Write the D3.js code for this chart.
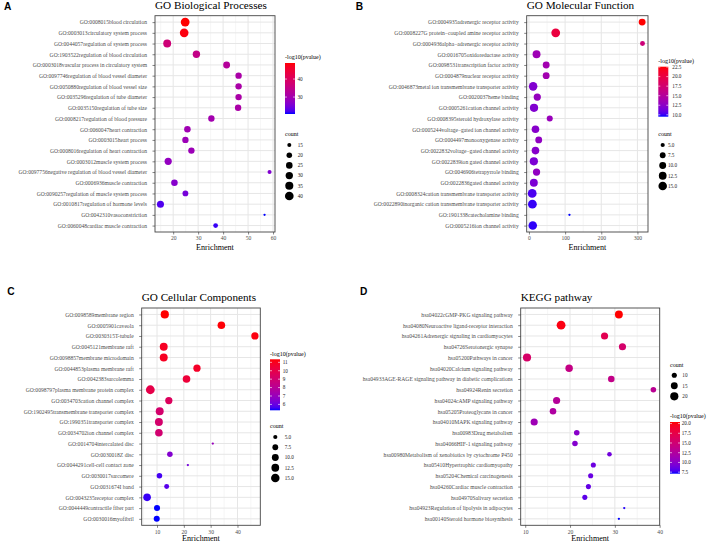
<!DOCTYPE html>
<html>
<head>
<meta charset="utf-8">
<script src="https://cdn.jsdelivr.net/npm/d3@7/dist/d3.min.js"></script>
<style>
html,body{margin:0;padding:0;background:#fff;}
svg{display:block;}
</style>
</head>
<body>
<svg id="chart" width="708" height="544"></svg>
<script>
// ---------------- Panel A: GO Biological Processes ----------------
const bpTerms = [
  "GO:0008015blood circulation",
  "GO:0003013circulatory system process",
  "GO:0044057regulation of system process",
  "GO:1903522regulation of blood circulation",
  "GO:0003018vascular process in circulatory system",
  "GO:0097746regulation of blood vessel diameter",
  "GO:0050880regulation of blood vessel size",
  "GO:0035296regulation of tube diameter",
  "GO:0035150regulation of tube size",
  "GO:0008217regulation of blood pressure",
  "GO:0060047heart contraction",
  "GO:0003015heart process",
  "GO:0008016regulation of heart contraction",
  "GO:0003012muscle system process",
  "GO:0097756negative regulation of blood vessel diameter",
  "GO:0006936muscle contraction",
  "GO:0090257regulation of muscle system process",
  "GO:0010817regulation of hormone levels",
  "GO:0042310vasoconstriction",
  "GO:0060048cardiac muscle contraction"
];
const bpEnrichment = [24.8, 24.4, 17.6, 29.3, 41.4, 46.2, 46.2, 46.2, 46.0, 35.3, 25.7, 24.9, 27.3, 18.0, 58.6, 20.5, 24.9, 14.9, 56.6, 37.0];
const bpLogP = [48.9, 48.2, 37, 35, 32.5, 31, 31, 31, 31, 30, 29.5, 29, 29, 28, 26, 26.5, 25, 22.5, 20.6, 21.5];
const bpCount = [41, 40, 34, 30, 27, 24, 24, 24, 24, 24, 25, 24, 24, 29, 15, 25, 21, 28, 13, 17];
const bpXTicks = [20, 30, 40, 50, 60];
const bpColorBreaks = [30, 40];
const bpSizeBreaks = [15, 20, 25, 30, 35, 40];

// ---------------- Panel B: GO Molecular Function ----------------
const mfTerms = [
  "GO:0004935adrenergic receptor activity",
  "GO:0008227G protein\u2212coupled amine receptor activity",
  "GO:0004936alpha\u2212adrenergic receptor activity",
  "GO:0016705oxidoreductase activity",
  "GO:0098531transcription factor activity",
  "GO:0004879nuclear receptor activity",
  "GO:0046873metal ion transmembrane transporter activity",
  "GO:0020037heme binding",
  "GO:0005261cation channel activity",
  "GO:0008395steroid hydroxylase activity",
  "GO:0005244voltage\u2212gated ion channel activity",
  "GO:0004497monooxygenase activity",
  "GO:0022832voltage\u2212gated channel activity",
  "GO:0022839ion gated channel activity",
  "GO:0046906tetrapyrrole binding",
  "GO:0022836gated channel activity",
  "GO:0008324cation transmembrane transporter activity",
  "GO:0022890inorganic cation transmembrane transporter activity",
  "GO:1901338catecholamine binding",
  "GO:0005216ion channel activity"
];
const mfEnrichment = [313, 74, 314, 21, 47.6, 47.6, 11.5, 23, 14, 57.5, 18, 27, 18, 13.5, 21, 13.5, 9.0, 9.5, 112, 10.5];
const mfLogP = [22.6, 20.2, 17.0, 13.5, 13.8, 13.8, 12.0, 13.0, 12.0, 13.2, 12.3, 12.8, 12.3, 11.8, 12.8, 11.8, 10.3, 9.9, 9.5, 9.8];
const mfCount = [10, 16, 6, 13, 10, 10, 15, 11, 14, 8, 12, 10, 12, 14, 11, 13, 16, 16, 4, 15];
const mfXTicks = [0, 100, 200, 300];
const mfColorBreaks = [10, 12.5, 15, 17.5, 20, 22.5];
const mfSizeBreaks = [5, 7.5, 10, 12.5, 15];

// ---------------- Panel C: GO Cellular Components ----------------
const ccTerms = [
  "GO:0098589membrane region",
  "GO:0005901caveola",
  "GO:0030315T-tubule",
  "GO:0045121membrane raft",
  "GO:0098857membrane microdomain",
  "GO:0044853plasma membrane raft",
  "GO:0042383sarcolemma",
  "GO:0098797plasma membrane protein complex",
  "GO:0034703cation channel complex",
  "GO:1902495transmembrane transporter complex",
  "GO:1990351transporter complex",
  "GO:0034702ion channel complex",
  "GO:0014704intercalated disc",
  "GO:0030018Z disc",
  "GO:0044291cell-cell contact zone",
  "GO:0030017sarcomere",
  "GO:0031674I band",
  "GO:0043235receptor complex",
  "GO:0044449contractile fiber part",
  "GO:0030016myofibril"
];
const ccEnrichment = [12.9, 34, 46.5, 12.5, 12.5, 24.9, 21, 7.5, 14.4, 11, 10.7, 10.7, 30.8, 14.8, 21.5, 10.9, 13.6, 6.3, 10, 9.9];
const ccLogP = [11.36, 11.3, 11.2, 10.9, 10.9, 10.8, 10.4, 10.0, 9.5, 9.1, 9.1, 9.0, 7.0, 6.5, 6.2, 5.6, 5.8, 5.5, 5.3, 5.3];
const ccCount = [14, 12, 11, 13, 13, 11, 12, 16, 11, 13, 13, 12, 4, 7, 4, 7, 6, 12, 8, 8];
const ccXTicks = [10, 20, 30, 40];
const ccColorBreaks = [6, 7, 8, 9, 10, 11];
const ccSizeBreaks = [5, 7.5, 10, 12.5, 15];

// ---------------- Panel D: KEGG pathway ----------------
const kgTerms = [
  "hsa04022cGMP-PKG signaling pathway",
  "hsa04080Neuroactive ligand-receptor interaction",
  "hsa04261Adrenergic signaling in cardiomyocytes",
  "hsa04726Serotonergic synapse",
  "hsa05200Pathways in cancer",
  "hsa04020Calcium signaling pathway",
  "hsa04933AGE-RAGE signaling pathway in diabetic complications",
  "hsa04924Renin secretion",
  "hsa04024cAMP signaling pathway",
  "hsa05205Proteoglycans in cancer",
  "hsa04010MAPK signaling pathway",
  "hsa00983Drug metabolism",
  "hsa04066HIF-1 signaling pathway",
  "hsa00980Metabolism of xenobiotics by cytochrome P450",
  "hsa05410Hypertrophic cardiomyopathy",
  "hsa05204Chemical carcinogenesis",
  "hsa04260Cardiac muscle contraction",
  "hsa04970Salivary secretion",
  "hsa04923Regulation of lipolysis in adipocytes",
  "hsa00140Steroid hormone biosynthesis"
];
const kgEnrichment = [30.9, 18.0, 27.7, 31.7, 10.4, 19.8, 29.2, 38.6, 17.0, 16.2, 12.0, 21.5, 21.1, 28.8, 25.2, 24.6, 24.1, 23.3, 32.1, 30.9];
const kgLogP = [20.4, 20.0, 17.0, 15.5, 15.7, 14.0, 13.8, 13.2, 12.8, 12.3, 11.2, 10.0, 9.8, 9.0, 8.8, 8.7, 8.5, 8.3, 7.3, 7.1];
const kgCount = [19, 23, 16, 16, 20, 17, 14, 11, 16, 14, 16, 11, 11, 9, 10, 10, 10, 10, 7, 7];
const kgXTicks = [10, 20, 30, 40];
const kgColorBreaks = [7.5, 10, 12.5, 15, 17.5, 20];
const kgSizeBreaks = [10, 15, 20];

// ---------------- drawing ----------------
const svg = d3.select("#chart");
const serif = "'Liberation Serif','Times New Roman',serif";
const sans = "'Liberation Sans',Arial,sans-serif";
const R0 = 1.15, R1 = 4.4;
const defs = svg.append("defs");

function drawPanel(L, D) {
  const g = svg.append("g");
  g.append("text").attr("x", L.letterX).attr("y", L.letterY).text(L.letter)
    .attr("font-family", sans).attr("font-weight", "bold").attr("font-size", 10.2).attr("fill", "#000");
  g.append("text").attr("x", L.left).attr("y", L.top - 6.6).text(D.title)
    .attr("font-family", serif).attr("font-size", 11.2).attr("fill", "#000");

  const ext = d3.extent(D.enrichment);
  const pad = (ext[1] - ext[0]) * 0.05;
  const x = d3.scaleLinear().domain([ext[0] - pad, ext[1] + pad]).range([L.left, L.right]);
  const y = d3.scalePoint().domain(D.terms).range([L.top, L.bottom]).padding(0.6);
  const cDom = d3.extent(D.logp);
  const col = d3.scaleLinear().domain(cDom).range(["#0000ff", "#ff0000"]).interpolate(d3.interpolateLab);
  const rT = d3.scaleLinear().domain(d3.extent(D.count)).range([0, 1]).clamp(true);
  const r = v => R0 + Math.sqrt(rT(v)) * (R1 - R0);

  // panel background + grid
  g.append("rect").attr("x", L.left).attr("y", L.top).attr("width", L.right - L.left)
    .attr("height", L.bottom - L.top).attr("fill", "#fff");
  const step = D.xTicks[1] - D.xTicks[0];
  const dom = x.domain();
  const minor = [];
  for (let v = D.xTicks[0] - step / 2; v <= dom[1]; v += step) if (v >= dom[0]) minor.push(v);
  g.selectAll(".mn").data(minor).enter().append("line")
    .attr("x1", d => x(d)).attr("x2", d => x(d)).attr("y1", L.top).attr("y2", L.bottom)
    .attr("stroke", "#f0f0f0").attr("stroke-width", 0.6);
  g.selectAll(".mjx").data(D.xTicks).enter().append("line")
    .attr("x1", d => x(d)).attr("x2", d => x(d)).attr("y1", L.top).attr("y2", L.bottom)
    .attr("stroke", "#e6e6e6").attr("stroke-width", 1);
  g.selectAll(".mjy").data(D.terms).enter().append("line")
    .attr("x1", L.left).attr("x2", L.right).attr("y1", d => y(d)).attr("y2", d => y(d))
    .attr("stroke", "#e6e6e6").attr("stroke-width", 1);

  // points
  const pts = D.terms.map((t, i) => ({t, e: D.enrichment[i], p: D.logp[i], c: D.count[i]}));
  g.selectAll(".pt").data(pts).enter().append("circle")
    .attr("cx", d => x(d.e)).attr("cy", d => y(d.t)).attr("r", d => r(d.c))
    .attr("fill", d => col(d.p));

  // border
  g.append("rect").attr("x", L.left).attr("y", L.top).attr("width", L.right - L.left)
    .attr("height", L.bottom - L.top).attr("fill", "none").attr("stroke", "#444").attr("stroke-width", 0.9);

  // axes
  const gx = g.append("g").attr("transform", `translate(0,${L.bottom})`)
    .call(d3.axisBottom(x).tickValues(D.xTicks).tickSize(2.5).tickPadding(2).tickFormat(d3.format("d")));
  gx.select(".domain").remove();
  gx.selectAll("line").attr("stroke", "#333").attr("stroke-width", 0.6);
  gx.selectAll("text").attr("font-family", serif).attr("font-size", 5.6).attr("fill", "#4d4d4d");

  const gy = g.append("g").attr("transform", `translate(${L.left},0)`)
    .call(d3.axisLeft(y).tickSize(2.5).tickPadding(5.5));
  gy.select(".domain").remove();
  gy.selectAll("line").attr("stroke", "#333").attr("stroke-width", 0.6);
  gy.selectAll("text").attr("font-family", serif).attr("font-size", 5.6).attr("fill", "#4d4d4d");

  g.append("text").attr("x", (L.left + L.right) / 2).attr("y", L.bottom + L.xtDy)
    .attr("text-anchor", "middle").text("Enrichment")
    .attr("font-family", serif).attr("font-size", 8.1).attr("fill", "#000");

  // colour legend
  const C = L.colorLeg;
  const gid = "grad" + L.letter;
  const grad = defs.append("linearGradient").attr("id", gid)
    .attr("x1", 0).attr("y1", 1).attr("x2", 0).attr("y2", 0);
  d3.range(0, 21).forEach(i => {
    grad.append("stop").attr("offset", i / 20)
      .attr("stop-color", col(cDom[0] + (cDom[1] - cDom[0]) * i / 20));
  });
  g.append("text").attr("x", C.x).attr("y", C.barTop - 3.7).text("-log10(pvalue)")
    .attr("font-family", serif).attr("font-size", 6).attr("fill", "#000");
  g.append("rect").attr("x", C.x).attr("y", C.barTop).attr("width", 10)
    .attr("height", C.barBottom - C.barTop).attr("fill", `url(#${gid})`);
  const cy = d3.scaleLinear().domain(cDom).range([C.barBottom, C.barTop]);
  const fmt = D.colorFmt;
  D.colorBreaks.forEach(b => {
    const yy = cy(b);
    g.append("line").attr("x1", C.x).attr("x2", C.x + 2).attr("y1", yy).attr("y2", yy)
      .attr("stroke", "#fff").attr("stroke-width", 0.6);
    g.append("line").attr("x1", C.x + 8).attr("x2", C.x + 10).attr("y1", yy).attr("y2", yy)
      .attr("stroke", "#fff").attr("stroke-width", 0.6);
    g.append("text").attr("x", C.x + C.ldx).attr("y", yy + 1.8).text(fmt(b))
      .attr("font-family", serif).attr("font-size", 5.2).attr("fill", "#1a1a1a");
  });

  // size legend
  const S = L.sizeLeg;
  g.append("text").attr("x", S.x).attr("y", S.firstY - 8.7).text("count")
    .attr("font-family", serif).attr("font-size", 6).attr("fill", "#000");
  D.sizeBreaks.forEach((b, i) => {
    const yy = S.firstY + i * S.step;
    g.append("circle").attr("cx", S.x + S.cdx).attr("cy", yy).attr("r", r(b)).attr("fill", "#000");
    g.append("text").attr("x", S.x + S.ldx).attr("y", yy + 1.8).text(D.sizeFmt(b))
      .attr("font-family", serif).attr("font-size", 5.2).attr("fill", "#1a1a1a");
  });
}

const f0 = d3.format("d"), f1 = d3.format(".1f");

drawPanel(
  {letter: "A", letterX: 4, letterY: 10, left: 155, top: 15.7, right: 275, bottom: 232, xtDy: 18.3,
   colorLeg: {x: 285, barTop: 63, barBottom: 114, ldx: 12.5},
   sizeLeg: {x: 285, firstY: 145, step: 10.2, cdx: 4.3, ldx: 12.7}},
  {title: "GO Biological Processes", terms: bpTerms, enrichment: bpEnrichment, logp: bpLogP, count: bpCount,
   xTicks: bpXTicks, colorBreaks: bpColorBreaks, sizeBreaks: bpSizeBreaks, colorFmt: f0, sizeFmt: f0});

drawPanel(
  {letter: "B", letterX: 355.7, letterY: 10, left: 526.7, top: 15.7, right: 648, bottom: 232, xtDy: 18.3,
   colorLeg: {x: 658.3, barTop: 66.7, barBottom: 116.7, ldx: 14},
   sizeLeg: {x: 658.3, firstY: 145, step: 10.25, cdx: 4.4, ldx: 9.6}},
  {title: "GO Molecular Function", terms: mfTerms, enrichment: mfEnrichment, logp: mfLogP, count: mfCount,
   xTicks: mfXTicks, colorBreaks: mfColorBreaks, sizeBreaks: mfSizeBreaks, colorFmt: f1, sizeFmt: f1});

drawPanel(
  {letter: "C", letterX: 7.3, letterY: 295.3, left: 141.7, top: 308, right: 260.3, bottom: 525.3, xtDy: 15.6,
   colorLeg: {x: 270, barTop: 359.3, barBottom: 410.3, ldx: 12.7},
   sizeLeg: {x: 270, firstY: 437, step: 10.25, cdx: 5.3, ldx: 14.7}},
  {title: "GO Cellular Components", terms: ccTerms, enrichment: ccEnrichment, logp: ccLogP, count: ccCount,
   xTicks: ccXTicks, colorBreaks: ccColorBreaks, sizeBreaks: ccSizeBreaks, colorFmt: f0, sizeFmt: f1});

drawPanel(
  {letter: "D", letterX: 360, letterY: 295.3, left: 520.7, top: 308, right: 659.7, bottom: 525.3, xtDy: 15.6,
   colorLeg: {x: 670, barTop: 422, barBottom: 473.7, ldx: 11.7},
   sizeLeg: {x: 670, firstY: 375.3, step: 10.5, cdx: 4.3, ldx: 12.3}},
  {title: "KEGG pathway", terms: kgTerms, enrichment: kgEnrichment, logp: kgLogP, count: kgCount,
   xTicks: kgXTicks, colorBreaks: kgColorBreaks, sizeBreaks: kgSizeBreaks, colorFmt: f1, sizeFmt: f0});
</script>
</body>
</html>
